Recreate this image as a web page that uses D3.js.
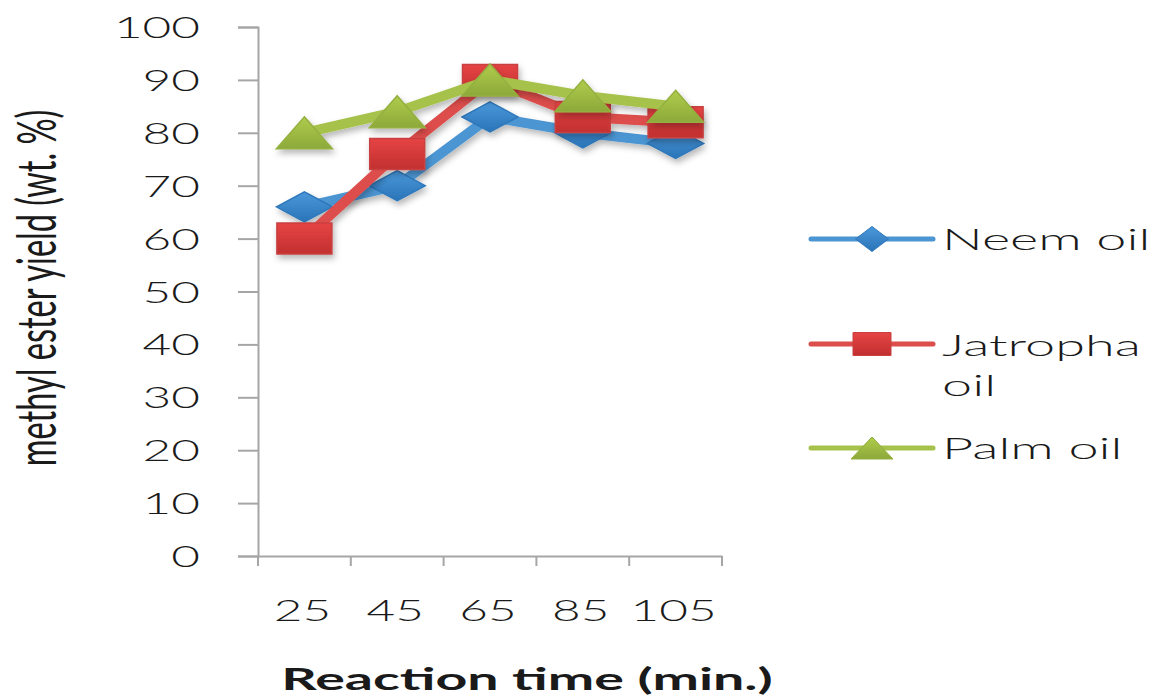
<!DOCTYPE html>
<html>
<head>
<meta charset="utf-8">
<script src="https://cdn.jsdelivr.net/npm/d3@7"></script>
<style>
  html, body { margin: 0; padding: 0; background: #fff; }
  svg { display: block; }
  text { font-family: Lato, "Open Sans", sans-serif; fill: #1a1a1a; }
</style>
</head>
<body>
<svg id="chart" width="1157" height="696"></svg>
<script>
// Reaction time categories (min.) and methyl ester yields (wt. %)
const categories = ["25", "45", "65", "85", "105"];
const neemOil = [66, 70, 83, 80, 78];
const jatrophaOil = [60, 76, 90, 83, 82];
const palmOil = [80, 84, 90, 87, 85];
const yTicks = [0, 10, 20, 30, 40, 50, 60, 70, 80, 90, 100];
const seriesNames = ["Neem oil", "Jatropha oil", "Palm oil"];

const series = [
  { name: seriesNames[0], values: neemOil, shape: "diamond",
    line: "#4b95d2", top: "#4a98da", bottom: "#2a74b8", edge: "#2e78bb" },
  { name: seriesNames[1], values: jatrophaOil, shape: "square",
    line: "#dc4d4b", top: "#e64444", bottom: "#c22f2f", edge: "#c94040" },
  { name: seriesNames[2], values: palmOil, shape: "triangle",
    line: "#a6c24b", top: "#b0cc4c", bottom: "#8ca93a", edge: "#94b040" }
];

const svg = d3.select("#chart");
const SX = 1.65; // horizontal stretch of the lettering

const plot = { left: 258, right: 722, top: 27, bottom: 556 };

const x = d3.scaleBand().domain(categories).range([plot.left, plot.right]);
const y = d3.scaleLinear().domain([0, 100]).range([plot.bottom, plot.top]);

// defs: gradients and shadow
const defs = svg.append("defs");
series.forEach((s, i) => {
  const g = defs.append("linearGradient").attr("id", "grad" + i)
    .attr("x1", 0).attr("y1", 0).attr("x2", 0).attr("y2", 1);
  g.append("stop").attr("offset", "0%").attr("stop-color", s.top);
  g.append("stop").attr("offset", "100%").attr("stop-color", s.bottom);
});
const sh = defs.append("filter").attr("id", "shadow")
  .attr("x", "-20%").attr("y", "-20%").attr("width", "150%").attr("height", "160%");
sh.append("feDropShadow").attr("dx", 2).attr("dy", 4).attr("stdDeviation", 3)
  .attr("flood-color", "#000").attr("flood-opacity", 0.28);

// stretched text helper
function stretchedText(parent, tx, ty, str, opts = {}) {
  return parent.append("text")
    .attr("transform", `translate(${tx},${ty}) scale(${opts.sx || SX},1)`)
    .attr("text-anchor", opts.anchor || "start")
    .style("font-size", (opts.size || 30) + "px")
    .style("font-weight", opts.weight || 300)
    .text(str);
}

// axes
const axisColor = "#a6a6a6";
const yAxisG = svg.append("g").attr("transform", `translate(${plot.left},0)`)
  .call(d3.axisLeft(y).tickValues(yTicks).tickSize(20).tickFormat(""));
const xAxisG = svg.append("g").attr("transform", `translate(0,${plot.bottom})`)
  .call(d3.axisBottom(x).tickSize(0).tickFormat(""));
[yAxisG, xAxisG].forEach(g => {
  g.selectAll("path.domain").attr("stroke", axisColor).attr("stroke-width", 2);
  g.selectAll(".tick line").attr("stroke", axisColor).attr("stroke-width", 2);
});
// category boundary ticks on the x axis
const bounds = categories.map(c => x(c)).concat([x.range()[1]]);
svg.append("g").selectAll("line").data(bounds).join("line")
  .attr("x1", d => d).attr("x2", d => d)
  .attr("y1", plot.bottom).attr("y2", plot.bottom + 10)
  .attr("stroke", axisColor).attr("stroke-width", 2);

// y tick labels
yTicks.forEach(v => {
  stretchedText(svg, 200, y(v) + 11, String(v), { anchor: "end" });
});
// x tick labels
categories.forEach(c => {
  stretchedText(svg, x(c) + x.bandwidth() / 2 - 2, 621, c, { anchor: "middle" });
});

// axis titles
stretchedText(svg, 527, 690, "Reaction time (min.)", { anchor: "middle", weight: 700, size: 30, sx: 1.85 });
svg.append("text")
  .attr("transform", `translate(56,288) rotate(-90) scale(1.25,2.1)`)
  .attr("text-anchor", "middle")
  .style("font-size", "26px")
  .style("font-weight", 400)
  .text("methyl ester yield (wt. %)");

// marker shapes
function markerPath(shape, w, h) {
  const a = w / 2, b = h / 2;
  if (shape === "diamond") return `M${-a},0L0,${-b}L${a},0L0,${b}Z`;
  if (shape === "square") return `M${-a},${-b}H${a}V${b}H${-a}Z`;
  return `M0,${-b}L${a},${b}H${-a}Z`;
}

const line = d3.line()
  .x((d, i) => x(categories[i]) + x.bandwidth() / 2)
  .y(d => y(d));

series.forEach((s, i) => {
  const g = svg.append("g").attr("filter", "url(#shadow)");
  g.append("path").datum(s.values)
    .attr("d", line)
    .attr("fill", "none")
    .attr("stroke", s.line)
    .attr("stroke-width", 10)
    .attr("stroke-linejoin", "round");
  const dims = s.shape === "triangle" ? [56, 32] : s.shape === "square" ? [55, 31] : [56, 30];
  g.selectAll("path.m").data(s.values).join("path")
    .attr("class", "m")
    .attr("transform", (d, j) => `translate(${x(categories[j]) + x.bandwidth() / 2},${y(d)})`)
    .attr("d", markerPath(s.shape, dims[0], dims[1]))
    .attr("fill", `url(#grad${i})`)
    .attr("stroke", s.edge)
    .attr("stroke-width", 1.5);
});

// legend
const legendRows = [
  { y: 239, lines: ["Neem oil"], base: 250 },
  { y: 344, lines: ["Jatropha", "oil"], base: 356 },
  { y: 448, lines: ["Palm oil"], base: 459 }
];
const legendDims = [[33, 25], [38, 23], [42, 22]];
legendRows.forEach((r, i) => {
  const s = series[i];
  const g = svg.append("g");
  g.append("line").attr("x1", 811).attr("x2", 933).attr("y1", r.y).attr("y2", r.y)
    .attr("stroke", s.line).attr("stroke-width", 5).attr("stroke-linecap", "round");
  g.append("path").attr("transform", `translate(872,${r.y})`)
    .attr("d", markerPath(s.shape, legendDims[i][0], legendDims[i][1]))
    .attr("fill", `url(#grad${i})`).attr("stroke", s.edge).attr("stroke-width", 1);
  r.lines.forEach((t, k) => {
    stretchedText(svg, 942, r.base + k * 40, t, { size: 30, sx: 1.8 });
  });
});
</script>
</body>
</html>
